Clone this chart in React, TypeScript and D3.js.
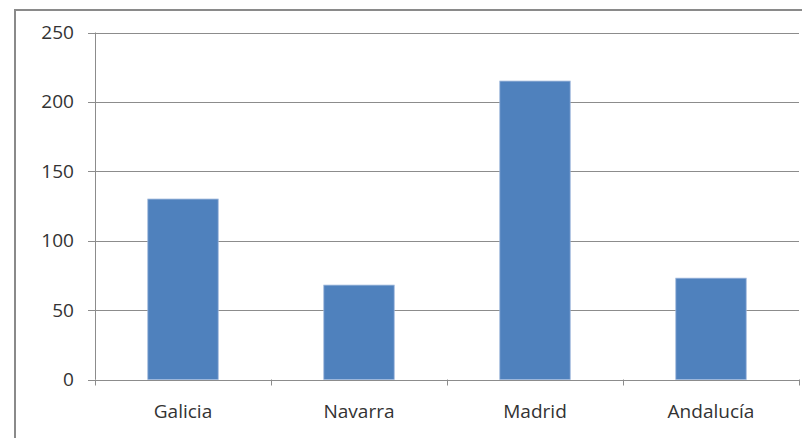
import React from "react";
import * as d3 from "d3";

const categories = ["Galicia", "Navarra", "Madrid", "Andalucía"];
const values = [130, 68, 215, 73];
const yTicks = [0, 50, 100, 150, 200, 250];

const W = 802;
const H = 438;
const plot = { left: 95, right: 799, top: 32.5, bottom: 379.5 };

export default function App() {
  const x = d3.scaleBand<string>().domain(categories).range([plot.left, plot.right]).padding(0);
  const y = d3.scaleLinear().domain([0, 250]).range([plot.bottom, plot.top]);
  const barW = x.step() * 0.4;
  const font = "'Open Sans', 'Noto Sans', sans-serif";
  const fontSize = 17.8;
  const stretch = 1.07;
  const grid = "#8c8c8c";
  const text = "#333333";
  const bounds = categories.map((c) => x(c)!).concat([plot.right]);

  return (
    <svg
      width={W}
      height={H}
      style={{ position: "fixed", left: 0, top: 0, background: "#fff" }}
    >
      {/* chart frame (clipped at right and bottom) */}
      <rect x={15} y={10} width={W} height={H} fill="#fff" stroke="#8a8a8a" strokeWidth={2} />

      {/* horizontal gridlines and y ticks */}
      {yTicks.map((t) => (
        <g key={t}>
          <line
            x1={plot.left - 7}
            x2={plot.right}
            y1={Math.round(y(t)) + 0.5}
            y2={Math.round(y(t)) + 0.5}
            stroke={grid}
            strokeWidth={1}
          />
          <text
            transform={`translate(74,${y(t)}) scale(${stretch},1)`}
            dy="0.36em"
            textAnchor="end"
            fontFamily={font}
            fontSize={fontSize}
            fill={text}
          >
            {t}
          </text>
        </g>
      ))}

      {/* y axis line */}
      <line x1={plot.left + 0.5} x2={plot.left + 0.5} y1={plot.top} y2={plot.bottom} stroke={grid} />

      {/* category tick marks */}
      {bounds.map((b, i) => (
        <line
          key={i}
          x1={Math.round(b) + 0.5}
          x2={Math.round(b) + 0.5}
          y1={plot.bottom}
          y2={plot.bottom + 6}
          stroke={grid}
        />
      ))}

      {/* bars */}
      {categories.map((c, i) => {
        const cx = x(c)! + x.bandwidth() / 2;
        return (
          <rect
            key={c}
            x={cx - barW / 2}
            y={y(values[i])}
            width={barW}
            height={y(0) - y(values[i])}
            fill="#4f81bd"
            stroke="#9bb5da"
            strokeWidth={0.8}
          />
        );
      })}

      {/* category labels */}
      {categories.map((c) => (
        <text
          key={c}
          transform={`translate(${x(c)! + x.bandwidth() / 2},418) scale(${stretch},1)`}
          textAnchor="middle"
          fontFamily={font}
          fontSize={fontSize}
          fill={text}
        >
          {c}
        </text>
      ))}
    </svg>
  );
}
